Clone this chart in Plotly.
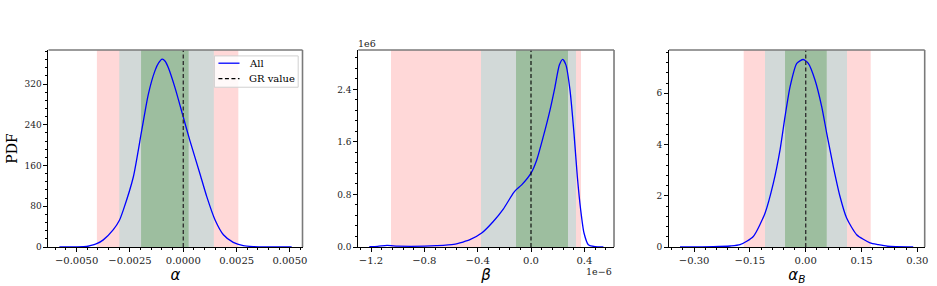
import plotly.graph_objects as go

# ---------------- data ----------------
# Panel 1: alpha
alpha_x = [-0.00581, -0.00500, -0.00453, -0.00437, -0.00406, -0.00375, -0.00328, -0.00300,
           -0.00281, -0.00234, -0.00195, -0.00164, -0.00133, -0.00115, -0.00099, -0.00085,
           -0.00070, -0.00039, 0.0, 0.00031, 0.00078, 0.00110, 0.00149, 0.00188, 0.00234,
           0.00281, 0.00328, 0.00390, 0.00508]
alpha_pdf = [0, 0.3, 1, 2.5, 6.5, 14, 34, 52, 73, 138, 229, 300, 346, 362, 369, 365,
             352, 313, 255, 209, 144, 99, 53, 24, 9, 2.5, 0.8, 0.2, 0]
alpha_bands = {"red": (-0.00405, 0.00258), "grey": (-0.00300, 0.00143), "green": (-0.00198, 0.00025)}

# Panel 2: beta (x in units of 1e-6, pdf in units of 1e6)
beta_x = [-1.213, -1.15, -1.08, -1.0, -0.9, -0.8, -0.71, -0.58, -0.51, -0.458, -0.37,
          -0.283, -0.208, -0.133, -0.1125, -0.07, 0.0, 0.043, 0.092, 0.1425, 0.18, 0.2125,
          0.238, 0.2625, 0.2925, 0.3225, 0.3475, 0.3725, 0.3975, 0.43, 0.48, 0.543]
beta_pdf = [0.005, 0.01, 0.025, 0.012, 0.01, 0.012, 0.02, 0.04, 0.076, 0.111, 0.213,
            0.389, 0.577, 0.82, 0.87, 0.946, 1.124, 1.326, 1.68, 2.085, 2.44, 2.77,
            2.856, 2.77, 2.39, 1.73, 1.07, 0.567, 0.213, 0.035, 0.005, 0]
beta_bands = {"red": (-1.05, 0.375), "grey": (-0.375, 0.3375), "green": (-0.1125, 0.2775)}

# Panel 3: alpha_B
alphaB_x = [-0.338, -0.248, -0.203, -0.1766, -0.1409, -0.1094, -0.087, -0.069, -0.0556,
            -0.042, -0.024, -0.0065, 0.007, 0.025, 0.043, 0.0565, 0.0742, 0.0922, 0.110,
            0.137, 0.173, 0.195, 0.22, 0.289]
alphaB_pdf = [0, 0.013, 0.04, 0.09, 0.41, 1.32, 2.49, 3.79, 5.09, 6.26, 7.17, 7.32, 7.17,
              6.52, 5.48, 4.44, 3.14, 1.97, 1.13, 0.48, 0.16, 0.09, 0.03, 0]
alphaB_bands = {"red": (-0.1667, 0.1747), "grey": (-0.1094, 0.111), "green": (-0.0556, 0.0565)}

gr_value = 0.0
legend_labels = ["All", "GR value"]

band_colors = {"red": "#FFD8D8", "grey": "#D2D9D8", "green": "#9DBE9F"}
CURVE_COLOR = "#0000FF"

# ---------------- figure ----------------
fig = go.Figure()

SERIF = "DejaVu Serif"
MATH = "DejaVu Sans"
DASH = "4px,2.5px"

panels = [
    dict(x=alpha_x, y=alpha_pdf, bands=alpha_bands, xr=[-0.006319, 0.005588], yr=[0, 387],
         xd=0.0025, xm=0.0005, yd=80, ym=16, xf=".4f", yf="d",
         xtitle="<i>α</i>", dom=[0.00057, 0.2902], grc="#333333", grw=1.4),
    dict(x=beta_x, y=beta_pdf, bands=beta_bands, xr=[-1.2955, 0.6226], yr=[0, 3.0],
         xd=0.4, xm=0.08, yd=0.8, ym=0.16, xf=".1f", yf=".1f",
         xtitle="<i>β</i>", dom=[0.3538, 0.6454], grc="#000000", grw=1.1),
    dict(x=alphaB_x, y=alphaB_pdf, bands=alphaB_bands, xr=[-0.3675, 0.3199], yr=[0, 7.69],
         xd=0.15, xm=0.03, yd=2, ym=0.4, xf=".2f", yf="d",
         xtitle="<i>α<sub>B</sub></i>", dom=[0.7081, 0.99966], grc="#333333", grw=1.4),
]

shapes = []
for i, p in enumerate(panels, start=1):
    sfx = "" if i == 1 else str(i)
    xa, ya = "x" + sfx, "y" + sfx
    fig.add_trace(go.Scatter(x=p["x"], y=p["y"], mode="lines", xaxis=xa, yaxis=ya,
                             line=dict(color=CURVE_COLOR, width=1.3, shape="spline", smoothing=0.6),
                             name=legend_labels[0], showlegend=False))
    for key in ["red", "grey", "green"]:
        lo, hi = p["bands"][key]
        shapes.append(dict(type="rect", xref=xa, yref=ya + " domain", x0=lo, x1=hi, y0=0, y1=1,
                           fillcolor=band_colors[key], line=dict(width=0), layer="below"))
    shapes.append(dict(type="line", xref=xa, yref=ya + " domain", x0=gr_value, x1=gr_value,
                       y0=0, y1=1, line=dict(color=p["grc"], width=p["grw"], dash=DASH)))
    # grey top/right frame
    shapes.append(dict(type="line", xref=xa + " domain", yref=ya + " domain", x0=0, x1=1, y0=1, y1=1,
                       line=dict(color="#7a7a7a", width=1.6)))
    shapes.append(dict(type="line", xref=xa + " domain", yref=ya + " domain", x0=1, x1=1, y0=0, y1=1,
                       line=dict(color="#7a7a7a", width=1.6)))

    fig.layout["xaxis" + sfx] = dict(
        domain=p["dom"], anchor=ya, range=p["xr"], showgrid=False, zeroline=False, automargin=False,
        showline=True, linecolor="black", linewidth=1, ticks="outside", ticklen=4,
        tickcolor="black", tick0=0, dtick=p["xd"], tickformat=p["xf"],
        tickfont=dict(family=SERIF, size=10, color="#222"),
        minor=dict(ticks="outside", ticklen=2, tickcolor="black", dtick=p["xm"], tick0=0, showgrid=False),
        title=dict(text=p["xtitle"], font=dict(family=MATH, size=15, color="black"), standoff=3),
    )
    fig.layout["yaxis" + sfx] = dict(
        domain=[0, 1], anchor=xa, range=p["yr"], showgrid=False, zeroline=False, automargin=False,
        showline=True, linecolor="black", linewidth=1, ticks="outside", ticklen=4,
        tickcolor="black", tick0=0, dtick=p["yd"], tickformat=p["yf"],
        tickfont=dict(family=SERIF, size=9, color="#222"),
        minor=dict(ticks="outside", ticklen=2, tickcolor="black", dtick=p["ym"], tick0=0, showgrid=False),
    )

fig.layout.yaxis.title = dict(text="PDF", font=dict(family=SERIF, size=14, color="black"), standoff=3)

# ---- legend (drawn in panel-1 domain coordinates) ----
shapes.append(dict(type="rect", xref="x domain", yref="y domain", x0=0.653, x1=0.983, y0=0.811, y1=0.970,
                   fillcolor="rgba(255,255,255,0.85)", line=dict(color="#d0d0d0", width=1)))
shapes.append(dict(type="line", xref="x domain", yref="y domain", x0=0.669, x1=0.752, y0=0.933, y1=0.933,
                   line=dict(color=CURVE_COLOR, width=1.3)))
shapes.append(dict(type="line", xref="x domain", yref="y domain", x0=0.669, x1=0.752, y0=0.855, y1=0.855,
                   line=dict(color="black", width=1.2, dash=DASH)))

annotations = [
    dict(text=legend_labels[0], xref="x domain", yref="y domain", x=0.781, y=0.933, xanchor="left",
         yanchor="middle", showarrow=False, font=dict(family=SERIF, size=10, color="black")),
    dict(text=legend_labels[1], xref="x domain", yref="y domain", x=0.781, y=0.855, xanchor="left",
         yanchor="middle", showarrow=False, font=dict(family=SERIF, size=10, color="black")),
    dict(text="1e6", xref="x2 domain", yref="y2 domain", x=0, y=1, xanchor="left", yanchor="bottom",
         showarrow=False, font=dict(family=SERIF, size=9.5, color="#222"), xshift=-2, yshift=-1),
    dict(text="1e−6", xref="x2 domain", yref="y2 domain", x=1, y=0, xanchor="right", yanchor="top",
         showarrow=False, font=dict(family=SERIF, size=9.5, color="#222"), yshift=-17),
]

fig.update_layout(
    template="none",
    width=937, height=286,
    margin=dict(l=48, r=12, t=50, b=39, pad=0),
    paper_bgcolor="white", plot_bgcolor="white",
    shapes=shapes, annotations=annotations,
    showlegend=False,
)

fig.write_html("out.html")
